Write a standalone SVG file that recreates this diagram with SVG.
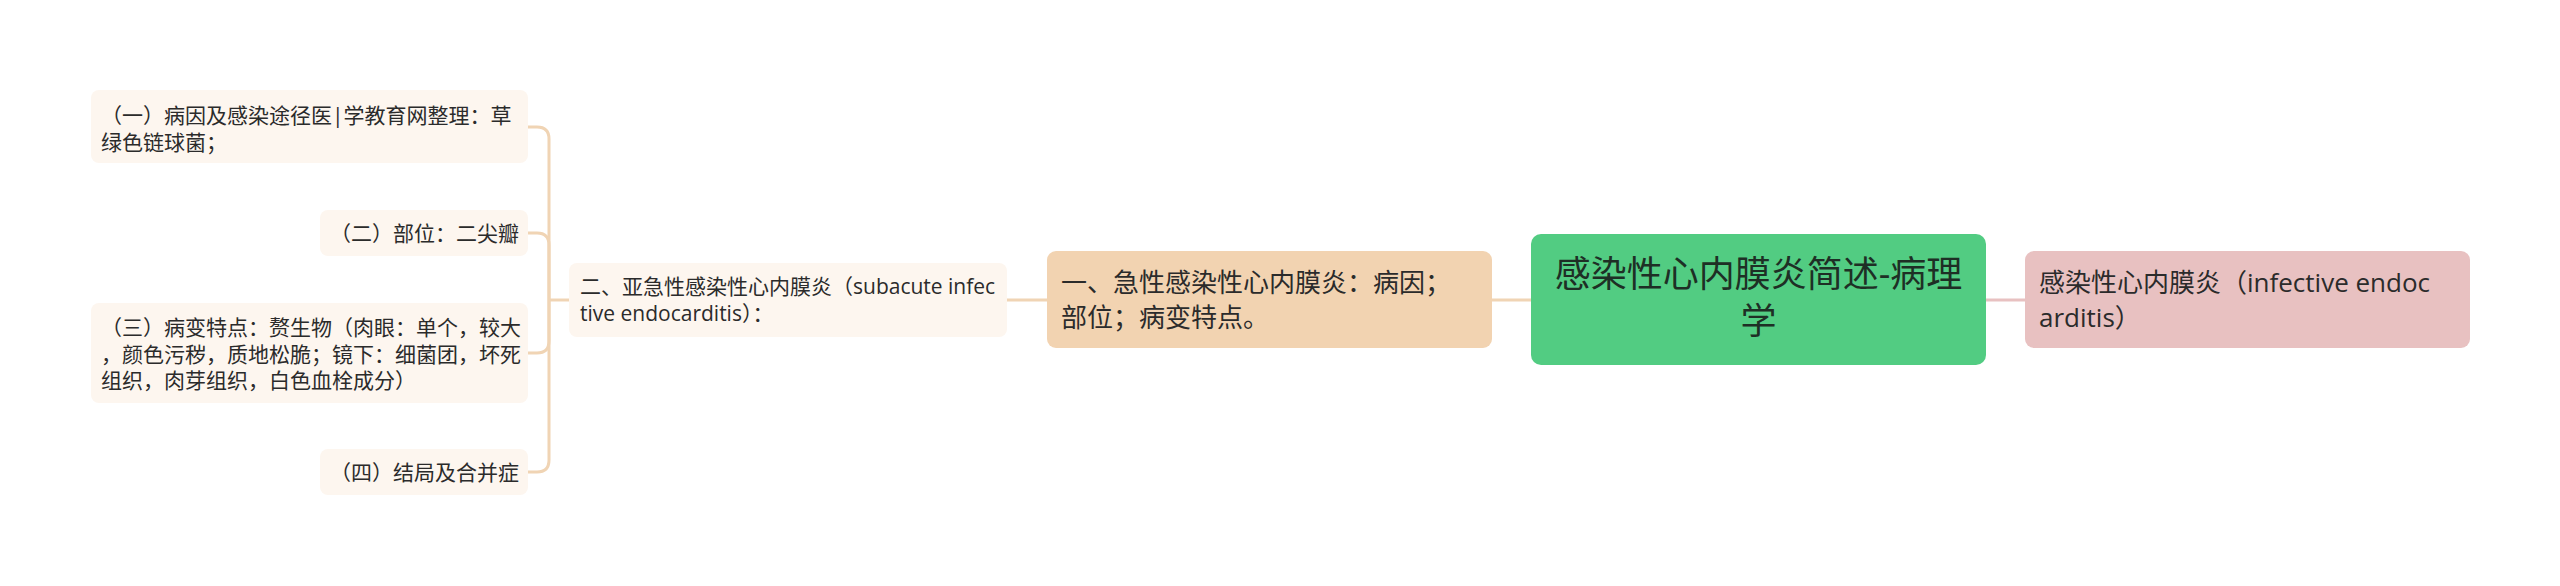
<svg xmlns="http://www.w3.org/2000/svg" width="2560" height="586" viewBox="0 0 2560 586">
<style>
text{font-family:"Open Sans","Noto Sans CJK SC",sans-serif;fill:#2b2b2b}
.leaf rect{fill:#FDF6EF}
.s21{font-size:21px}
.s26{font-size:26px}
.root{font-size:36px;fill:#1e2f25}
.c{fill:none;stroke:#F0D4B4;stroke-width:3}
.cp{fill:none;stroke:#E8C1C1;stroke-width:3}
</style>
<rect width="2560" height="586" fill="#ffffff"/>
<g id="connectors">
<path class="c" d="M549,300 L549,139 Q549,127 537,127 L528,127"/>
<path class="c" d="M549,300 L549,245 Q549,233 537,233 L528,233"/>
<path class="c" d="M549,300 L549,341 Q549,353 537,353 L528,353"/>
<path class="c" d="M549,300 L549,460 Q549,472 537,472 L528,472"/>
<path class="c" d="M549,300 L569,300"/>
<path class="c" d="M1007,300 L1047,300"/>
<path class="c" d="M1492,300 L1531,300"/>
<path class="cp" d="M1986,300 L2025,300"/>
</g>
<g id="root">
<rect x="1531" y="234" width="455" height="131" rx="10" fill="#52CC82"/>
<text class="root" x="1758.5" y="287" text-anchor="middle">感染性心内膜炎简述-病理</text>
<text class="root" x="1758.5" y="334" text-anchor="middle">学</text>
</g>
<g id="n-right">
<rect x="2025" y="251" width="445" height="97" rx="9" fill="#E8C1C1"/>
<text class="s26" x="2039" y="292">感染性心内膜炎（infective endoc</text>
<text class="s26" x="2039" y="327">arditis）</text>
</g>
<g id="n1">
<rect x="1047" y="251" width="445" height="97" rx="9" fill="#F2D3B1"/>
<text class="s26" x="1061" y="292">一、急性感染性心内膜炎：病因；</text>
<text class="s26" x="1061" y="327">部位；病变特点。</text>
</g>
<g id="n2" class="leaf">
<rect x="569" y="263" width="438" height="74" rx="8"/>
<text class="s21" x="580" y="294">二、亚急性感染性心内膜炎（subacute infec</text>
<text class="s21" x="580" y="321">tive endocarditis）：</text>
</g>
<g id="n2-1" class="leaf">
<rect x="91" y="90" width="437" height="73" rx="8"/>
<text class="s21" x="101" y="123">（一）病因及感染途径医|学教育网整理：草</text>
<text class="s21" x="101" y="150">绿色链球菌；</text>
</g>
<g id="n2-2" class="leaf">
<rect x="320" y="210" width="208" height="46" rx="8"/>
<text class="s21" x="330" y="241">（二）部位：二尖瓣</text>
</g>
<g id="n2-3" class="leaf">
<rect x="91" y="303" width="437" height="100" rx="8"/>
<text class="s21" x="101" y="335">（三）病变特点：赘生物（肉眼：单个，较大</text>
<text class="s21" x="101" y="362">，颜色污秽，质地松脆；镜下：细菌团，坏死</text>
<text class="s21" x="101" y="388">组织，肉芽组织，白色血栓成分）</text>
</g>
<g id="n2-4" class="leaf">
<rect x="320" y="449" width="208" height="46" rx="8"/>
<text class="s21" x="330" y="480">（四）结局及合并症</text>
</g>
</svg>
